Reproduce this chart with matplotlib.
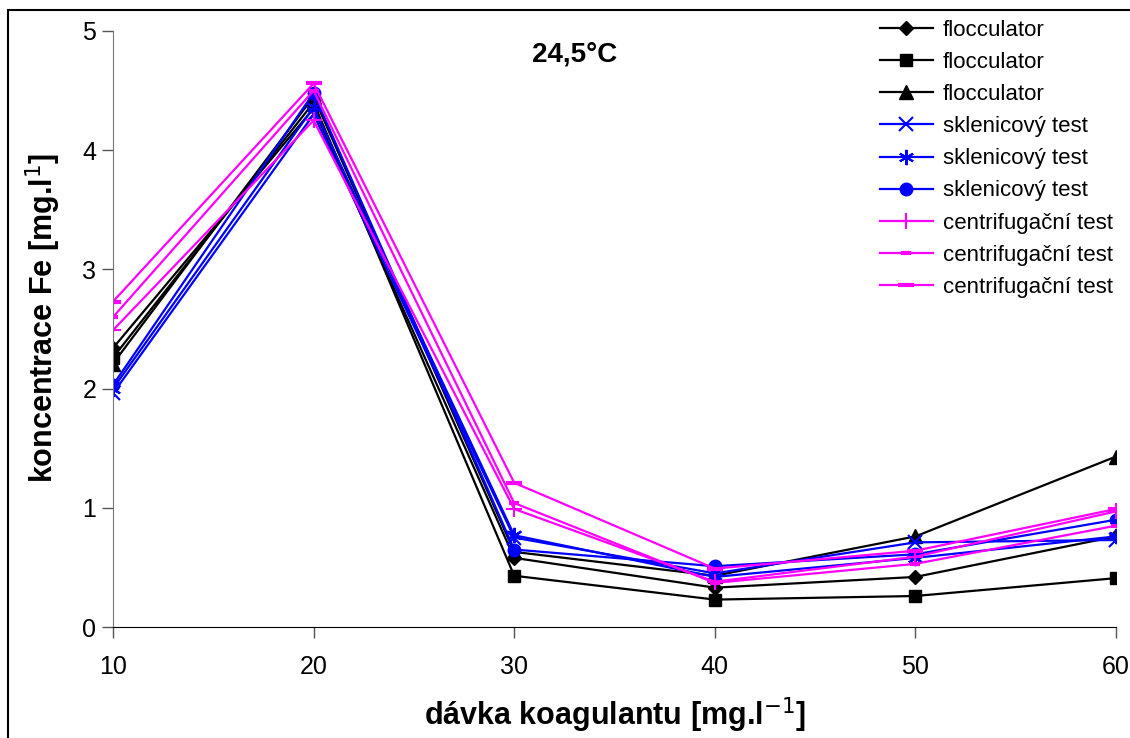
import matplotlib
matplotlib.use("Agg")
import matplotlib.pyplot as plt
from matplotlib.patches import Rectangle

plt.rcParams['font.family'] = ['Liberation Sans', 'DejaVu Sans']

x = [10, 20, 30, 40, 50, 60]
labels = ["flocculator", "flocculator", "flocculator",
          "sklenicový test", "sklenicový test", "sklenicový test",
          "centrifugační test", "centrifugační test", "centrifugační test"]
floc_diamond = [2.34, 4.35, 0.58, 0.33, 0.42, 0.76]
floc_square = [2.26, 4.40, 0.43, 0.23, 0.26, 0.41]
floc_triangle = [2.21, 4.45, 0.63, 0.43, 0.76, 1.43]
skl_x = [1.96, 4.30, 0.75, 0.45, 0.71, 0.73]
skl_star = [2.00, 4.36, 0.77, 0.42, 0.58, 0.76]
skl_circle = [2.03, 4.48, 0.65, 0.51, 0.61, 0.90]
cen_plus = [2.49, 4.25, 0.99, 0.38, 0.59, 0.97]
cen_dash_s = [2.60, 4.50, 1.04, 0.37, 0.53, 0.85]
cen_dash_l = [2.73, 4.56, 1.21, 0.49, 0.64, 0.99]

series = [floc_diamond, floc_square, floc_triangle, skl_x, skl_star, skl_circle,
          cen_plus, cen_dash_s, cen_dash_l]
styles = [
    dict(color='black', marker='D', ms=7),
    dict(color='black', marker='s', ms=8),
    dict(color='black', marker='^', ms=10),
    dict(color='#0000FF', marker='x', ms=10, mew=1.5),
    dict(color='#0000FF', marker=(6, 2, 0), ms=11, mew=1.5),
    dict(color='#0000FF', marker='o', ms=9),
    dict(color='#FF00FF', marker='+', ms=12, mew=1.5),
    dict(color='#FF00FF', marker='_', ms=7, mew=3),
    dict(color='#FF00FF', marker='_', ms=12, mew=3),
]

fig = plt.figure(figsize=(11.3, 7.38), dpi=100)
ax = fig.add_axes([0.1, 0.1504, 0.8876, 0.8076])

for ys, lab, st in zip(series, labels, styles):
    ax.plot(x, ys, lw=1.6, label=lab, **st)

ax.set_xlim(10, 60)
ax.set_ylim(0, 5)
ax.set_xticks(x)
ax.set_yticks([0, 1, 2, 3, 4, 5])
ax.tick_params(axis='both', labelsize=18, length=8, width=1, color='#555555',
               direction='out', pad=4)
ax.tick_params(axis='x', pad=12)
for s in ['top', 'right']:
    ax.spines[s].set_visible(False)
ax.spines['left'].set_color('#777777')
ax.spines['bottom'].set_color('black')
for s in ['left', 'bottom']:
    ax.spines[s].set_clip_on(False)

ax.set_xlabel("dávka koagulantu [mg.l$^{-1}$]", fontsize=22, fontweight='bold', labelpad=12)
ax.set_ylabel("koncentrace Fe [mg.l$^{1}$]", fontsize=22, fontweight='bold')
ax.yaxis.set_label_coords((63 - 113) / 1003, (627 - 318) / 596)

ax.text(575 / 1130, 1 - 55 / 738, "24,5°C", transform=fig.transFigure,
        fontsize=20, fontweight='bold', ha='center', va='center')

leg = ax.legend(loc='upper right', bbox_to_anchor=(1122 / 1130, 1 - 11 / 738),
                bbox_transform=fig.transFigure, frameon=False, fontsize=16,
                handlelength=2.4, handletextpad=0.45, labelspacing=0.5,
                borderaxespad=0)

fig.patches.append(Rectangle((8 / 1130, -0.01), 1.02, 1 - 10 / 738 + 0.01,
                             transform=fig.transFigure, fill=False,
                             edgecolor='black', lw=1.5))

fig.savefig("out.png", dpi=100)
